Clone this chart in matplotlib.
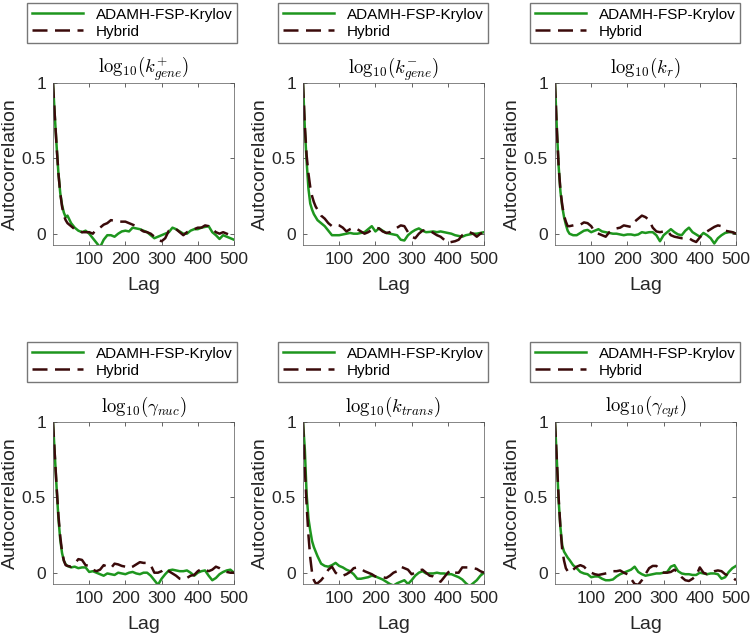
import numpy as np
import matplotlib
matplotlib.use("Agg")
import matplotlib.pyplot as plt

plt.rcParams['font.family'] = ['Liberation Sans', 'DejaVu Sans']
plt.rcParams['mathtext.fontset'] = 'cm'

# lags at which the autocorrelation values were read
lags = [0, 5, 10, 15, 20, 25, 30, 35] + list(range(40, 501, 10))

titles = [r'$\mathrm{log}_{10}(k^{+}_{gene})$', r'$\mathrm{log}_{10}(k^{-}_{gene})$',
          r'$\mathrm{log}_{10}(k_r)$', r'$\mathrm{log}_{10}(\gamma_{nuc})$',
          r'$\mathrm{log}_{10}(k_{trans})$', r'$\mathrm{log}_{10}(\gamma_{cyt})$']

# ADAMH-FSP-Krylov
fsp_kgene_on = [1, 0.78, 0.58, 0.40, 0.27, 0.19, 0.14, 0.11, 0.12, 0.07, 0.04, 0.02, 0.01, 0.02, 0.0,
                -0.03, -0.06, -0.09, -0.04, -0.01, -0.01, -0.02, 0.0, 0.015, 0.02, 0.015, 0.04, 0.035,
                0.03, 0.02, 0.01, -0.01, -0.03, -0.02, -0.01, 0.0, 0.01, 0.04, 0.03, 0.015, 0.0, 0.0,
                0.02, 0.03, 0.03, 0.04, 0.045, 0.05, 0.01, -0.01, -0.035, -0.01, -0.02, -0.03, -0.04]
fsp_kgene_off = [1, 0.7, 0.48, 0.3, 0.2, 0.16, 0.13, 0.11, 0.09, 0.07, 0.05, 0.02, -0.01, -0.01, -0.01,
                 -0.005, 0.0, 0.005, 0.0, 0.0, 0.005, 0.01, 0.03, 0.05, 0.015, 0.035, 0.02, 0.005, 0.0,
                 -0.005, -0.01, -0.04, -0.045, -0.01, 0.01, 0.025, 0.035, 0.02, 0.01, 0.012, 0.015,
                 0.01, 0.015, 0.01, 0.005, 0.0, -0.01, -0.015, -0.02, -0.01, -0.005, 0.0, 0.0, 0.005, 0.01]
fsp_kr = [1, 0.7, 0.45, 0.28, 0.18, 0.11, 0.06, 0.02, 0.0, -0.01, -0.01, 0.005, 0.02, 0.025, 0.01,
          0.02, 0.03, 0.015, 0.01, 0.005, 0.0, 0.0, -0.005, -0.01, -0.005, -0.005, -0.01, -0.005, 0.01,
          0.005, 0.01, 0.01, -0.01, -0.05, -0.01, 0.01, 0.03, 0.01, -0.005, -0.01, 0.02, 0.04, 0.01,
          -0.005, -0.02, 0.005, -0.01, -0.03, -0.065, -0.03, -0.01, 0.005, 0.01, 0.01, 0.0]
fsp_gnuc = [1, 0.78, 0.56, 0.36, 0.22, 0.13, 0.08, 0.055, 0.045, 0.035, 0.04, 0.03, 0.035, 0.035, 0.005,
            0.01, 0.0, -0.01, -0.02, -0.005, -0.01, -0.015, 0.0, -0.005, -0.01, 0.0, 0.005, -0.005,
            -0.01, 0.0, 0.0, -0.02, -0.05, -0.08, -0.04, -0.01, 0.015, 0.02, 0.015, 0.01, 0.01, 0.015,
            0.0, -0.02, 0.0, 0.01, 0.015, -0.02, -0.05, -0.035, -0.01, 0.005, 0.015, 0.02, 0.0]
fsp_ktrans = [1, 0.82, 0.52, 0.36, 0.28, 0.21, 0.17, 0.14, 0.11, 0.06, 0.045, 0.04, 0.05, 0.065, 0.045,
              0.035, 0.02, 0.01, -0.01, -0.04, -0.04, -0.035, -0.03, -0.02, -0.025, -0.035, -0.045,
              -0.06, -0.075, -0.085, -0.07, -0.06, -0.05, -0.075, -0.05, -0.02, 0.0, 0.01, -0.005,
              -0.005, -0.005, 0.0, -0.005, -0.005, -0.01, -0.01, -0.02, -0.03, -0.045, -0.07, -0.09,
              -0.07, -0.05, -0.02, 0.0]
fsp_gcyt = [1, 0.75, 0.48, 0.3, 0.18, 0.14, 0.12, 0.1, 0.085, 0.05, 0.03, 0.005, -0.005, -0.01, -0.03,
            -0.025, -0.025, -0.04, -0.05, -0.05, -0.045, -0.025, -0.01, 0.0, 0.01, 0.02, 0.04, 0.005,
            -0.01, -0.02, -0.015, -0.01, -0.005, -0.005, 0.0, 0.005, 0.04, 0.05, 0.01, -0.005, -0.01,
            -0.01, -0.015, -0.015, 0.0, -0.005, -0.01, -0.005, -0.005, -0.01, -0.04, -0.03, 0.005,
            0.03, 0.045]

# Hybrid
hyb_kgene_on = [1, 0.78, 0.58, 0.40, 0.27, 0.18, 0.12, 0.09, 0.07, 0.05, 0.03, 0.02, 0.01, 0.01, 0.01,
                0.0, 0.03, 0.04, 0.06, 0.07, 0.09, 0.085, 0.08, 0.08, 0.08, 0.07, 0.06, 0.05, 0.03,
                0.015, 0.01, 0.0, -0.02, -0.04, -0.05, -0.03, 0.02, 0.03, 0.03, 0.01, -0.01, 0.01, 0.02,
                0.03, 0.04, 0.04, 0.055, 0.05, 0.03, 0.01, 0.0, 0.01, 0.0, -0.01, -0.02]
hyb_kgene_off = [1, 0.72, 0.52, 0.40, 0.31, 0.25, 0.21, 0.18, 0.16, 0.12, 0.10, 0.07, 0.05, 0.06, 0.055,
                 0.04, 0.015, 0.03, 0.04, 0.03, 0.015, 0.0, 0.01, 0.025, 0.04, 0.035, 0.015, 0.005,
                 0.01, 0.025, 0.04, 0.055, 0.05, 0.01, -0.02, -0.03, 0.0, 0.02, 0.025, 0.02, 0.005,
                 -0.01, -0.02, -0.04, -0.06, -0.055, -0.05, -0.04, -0.01, 0.005, 0.01, 0.0, -0.02, 0.0,
                 0.01]
hyb_kr = [1, 0.7, 0.45, 0.29, 0.19, 0.12, 0.08, 0.05, 0.05, 0.055, 0.06, 0.06, 0.075, 0.07, 0.05,
          0.01, 0.0, -0.01, -0.02, 0.01, 0.025, 0.035, 0.04, 0.055, 0.05, 0.045, 0.08, 0.1, 0.12, 0.11,
          0.09, 0.04, 0.015, 0.01, 0.015, 0.02, -0.01, -0.02, -0.025, -0.03, -0.03, -0.03, -0.045,
          -0.055, -0.025, 0.0, 0.015, 0.03, 0.045, 0.055, 0.05, 0.02, 0.015, 0.01, 0.0]
hyb_gnuc = [1, 0.78, 0.57, 0.38, 0.24, 0.14, 0.08, 0.05, 0.045, 0.04, 0.06, 0.09, 0.085, 0.05, 0.045,
            0.02, 0.01, 0.02, 0.05, 0.04, 0.03, 0.06, 0.055, 0.045, 0.04, 0.03, 0.04, 0.055, 0.07,
            0.065, 0.065, 0.05, 0.0, 0.0, 0.01, 0.03, 0.01, -0.005, -0.02, -0.04, -0.045, -0.035,
            -0.02, -0.015, 0.01, 0.025, 0.02, 0.01, 0.02, 0.04, 0.03, 0.015, 0.005, 0.0, 0.0]
hyb_ktrans = [1, 0.7, 0.45, 0.25, 0.1, 0.0, -0.05, -0.07, -0.07, -0.05, -0.02, 0.02, 0.04, 0.0, -0.02,
              -0.02, -0.01, 0.005, 0.03, 0.035, 0.025, 0.01, 0.0, -0.01, -0.025, -0.03, -0.03, -0.035,
              -0.02, 0.0, 0.01, 0.04, 0.03, 0.02, -0.01, 0.0, 0.015, 0.02, 0.0, -0.02, -0.025, -0.04,
              -0.06, -0.03, 0.0, 0.02, 0.0, 0.0, 0.035, 0.035, 0.035, 0.03, 0.025, 0.01, 0.0]
hyb_gcyt = [1, 0.75, 0.5, 0.3, 0.15, 0.08, 0.03, 0.01, 0.0, 0.02, 0.04, 0.05, 0.04, 0.015, 0.0, -0.01,
            -0.015, -0.01, -0.005, 0.0, 0.01, 0.01, 0.015, 0.0, -0.01, -0.04, -0.075, -0.08, -0.05,
            -0.01, 0.03, 0.045, 0.045, 0.02, 0.0, 0.0, 0.005, 0.02, 0.0, -0.03, -0.05, -0.055, -0.04,
            -0.02, 0.035, 0.0, -0.01, 0.0, 0.01, 0.015, 0.01, -0.01, -0.02, -0.03, -0.05]

fsp_all = [fsp_kgene_on, fsp_kgene_off, fsp_kr, fsp_gnuc, fsp_ktrans, fsp_gcyt]
hyb_all = [hyb_kgene_on, hyb_kgene_off, hyb_kr, hyb_gnuc, hyb_ktrans, hyb_gcyt]

W, H = 750, 636
fig = plt.figure(figsize=(7.5, 6.36), dpi=100)

lefts = [53, 303, 555]
tops = [83, 422]
aw, ah = 181, 162
leg_x = [132, 383, 635]
leg_y = [3, 342]

green = '#1e961e'
brown = '#3a0a0a'
gray = '#262626'

for i in range(6):
    r, c = divmod(i, 3)
    ax = fig.add_axes([lefts[c] / W, 1 - (tops[r] + ah) / H, aw / W, ah / H])
    l1, = ax.plot(lags, fsp_all[i], color=green, lw=1.8, label='ADAMH-FSP-Krylov')
    l2, = ax.plot(lags, hyb_all[i], color=brown, lw=1.8, dashes=(6, 3), label='Hybrid')
    ax.set_xlim(0, 500)
    ax.set_ylim(-0.075, 1)
    ax.set_xticks([100, 200, 300, 400, 500])
    ax.set_yticks([0, 0.5, 1])
    ax.set_yticklabels(['0', '0.5', '1'])
    ax.tick_params(direction='in', top=True, right=True, length=3, width=0.5,
                   labelsize=12.5, colors=gray, pad=5)
    for s in ax.spines.values():
        s.set_linewidth(0.5)
        s.set_color('#555555')
    ax.set_xlabel('Lag', fontsize=14, color=gray, labelpad=7)
    ax.set_ylabel('Autocorrelation', fontsize=14, color=gray, labelpad=2)
    ax.set_title(titles[i], fontsize=13.5, pad=7)
    fig.legend(handles=[l1, l2], loc='upper center',
               bbox_to_anchor=(leg_x[c] / W, 1 - leg_y[r] / H),
               fontsize=11, handlelength=3.4, frameon=True, fancybox=False,
               edgecolor='#555555', borderpad=0.3, labelspacing=0.2, handletextpad=0.8,
               borderaxespad=0)

fig.savefig('out.png', dpi=100)
